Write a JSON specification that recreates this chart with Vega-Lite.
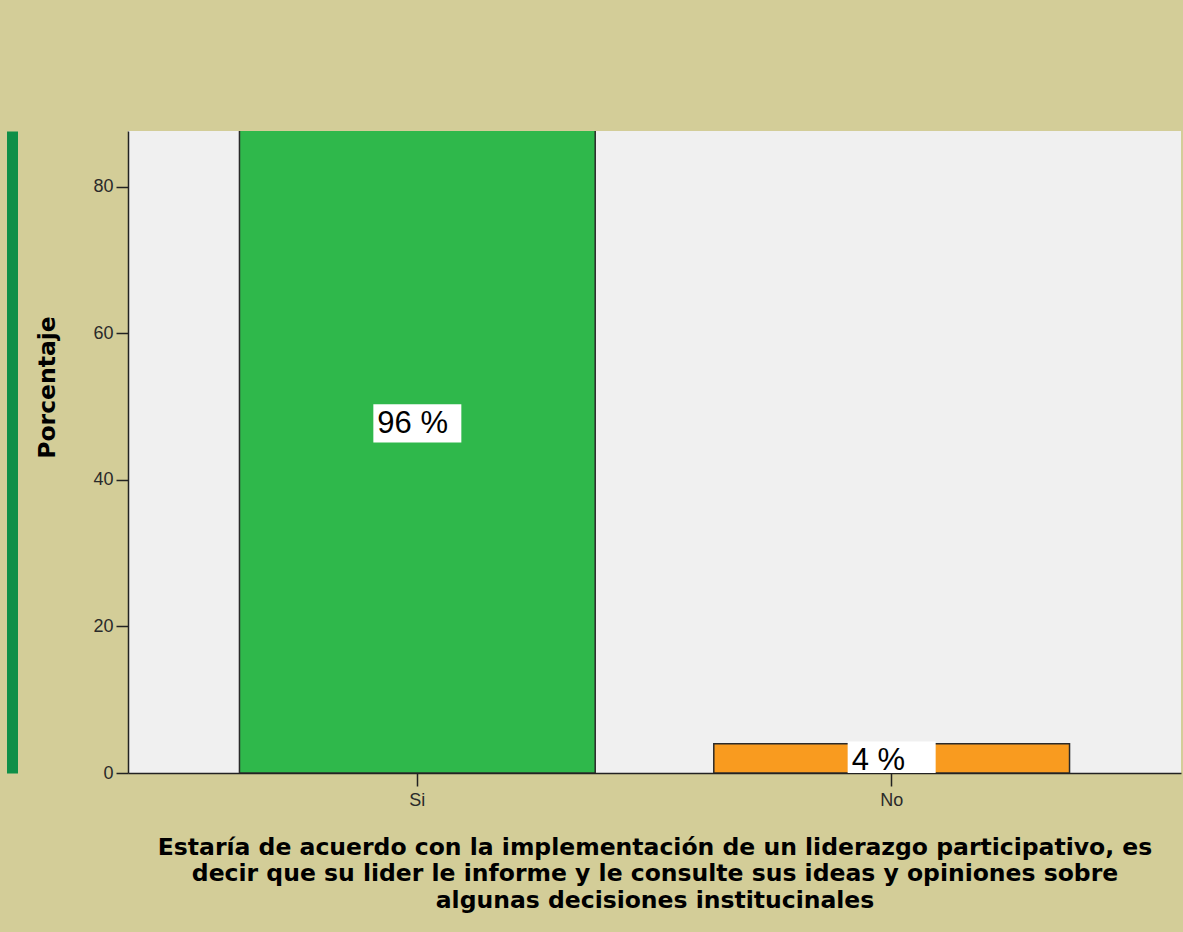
{
  "$schema": "https://vega.github.io/schema/vega-lite/v6.json",
  "autosize": {"type": "none"},
  "width": 1053,
  "height": 642,
  "padding": {"left": 128, "top": 131, "right": 2, "bottom": 159},
  "background": "#d3cd98",
  "config": {
    "view": {"fill": "#f0f0f0", "stroke": null},
    "axis": {"grid": false, "labelFont": "Liberation Sans", "labelFontSize": 18, "labelColor": "#2a2a2a", "tickColor": "#222222", "domainColor": "#222222", "domainWidth": 1.5, "tickWidth": 1.5}
  },
  "data": {"values": [{"cat": "Si", "value": 96, "label": "96 %"}, {"cat": "No", "value": 4, "label": "4 %"}]},
  "transform": [
    {"calculate": "datum.value / 2", "as": "mid"},
    {"calculate": "datum.value / 2 - 2.9", "as": "lo"},
    {"calculate": "datum.value / 2 + 2.3", "as": "hi"}
  ],
  "layer": [
    {
      "layer": [
        {
          "mark": {"type": "bar", "clip": true, "stroke": "#2a2a2a", "strokeWidth": 1.5},
          "encoding": {
            "x": {"field": "cat", "type": "nominal", "sort": ["Si", "No"],
              "scale": {"paddingInner": 0.25, "paddingOuter": 0.235},
              "axis": {"labelAngle": 0, "tickSize": 13, "labelPadding": 5,
                "title": ["Estaría de acuerdo con la implementación de un liderazgo participativo, es", "decir que su lider le informe y le consulte sus ideas y opiniones sobre", "algunas decisiones institucinales"],
                "titleFont": "DejaVu Sans", "titleFontWeight": "bold", "titleFontSize": 23.5, "titleColor": "#000000", "titleLineHeight": 26.5, "titlePadding": 26}},
            "y": {"field": "value", "type": "quantitative",
              "scale": {"domain": [0, 87.6], "nice": false},
              "axis": {"values": [0, 20, 40, 60, 80], "tickSize": 12, "labelPadding": 3,
                "title": "Porcentaje", "titleFont": "DejaVu Sans", "titleFontWeight": "bold", "titleFontSize": 23.5, "titleColor": "#000000",
                "titleX": -81, "titleY": 256, "titleAngle": -90, "titleAlign": "center", "titleBaseline": "middle"}},
            "color": {"field": "cat", "type": "nominal", "scale": {"domain": ["Si", "No"], "range": ["#2fb84b", "#f99b1f"]}, "legend": null}
          }
        },
        {
          "mark": {"type": "bar", "size": 88, "color": "#ffffff", "clip": true},
          "encoding": {
            "x": {"field": "cat", "type": "nominal", "sort": ["Si", "No"]},
            "y": {"field": "lo", "type": "quantitative"},
            "y2": {"field": "hi"}
          }
        },
        {
          "mark": {"type": "text", "align": "left", "baseline": "middle", "dx": -40, "dy": 3, "font": "Liberation Sans", "fontSize": 31, "color": "#000000"},
          "encoding": {
            "x": {"field": "cat", "type": "nominal", "sort": ["Si", "No"]},
            "y": {"field": "mid", "type": "quantitative"},
            "text": {"field": "label"}
          }
        }
      ]
    },
    {
      "mark": {"type": "bar", "opacity": 0},
      "encoding": {
        "x": {"field": "cat", "type": "nominal", "sort": ["Si", "No"]},
        "y": {"field": "value", "type": "quantitative", "scale": {"domain": [0, 87.6], "nice": false},
          "axis": {"orient": "left", "offset": 116, "domainColor": "#0f8f48", "domainWidth": 11, "ticks": false, "labels": false, "title": null}}
      }
    }
  ],
  "resolve": {"scale": {"y": "independent"}, "axis": {"y": "independent"}}
}
